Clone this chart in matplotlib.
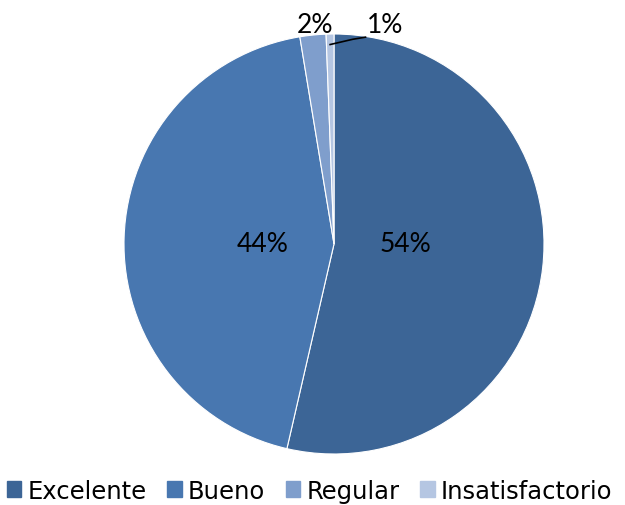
import matplotlib
matplotlib.use("Agg")
import matplotlib.pyplot as plt
import numpy as np

categories = ["Excelente", "Bueno", "Regular", "Insatisfactorio"]
values = [53.6, 43.8, 2.0, 0.6]
labels = ["54%", "44%", "2%", "1%"]
colors = ["#3c6596", "#4877b0", "#7f9ecc", "#b5c6e2"]

plt.rcParams['font.family'] = ['Lato', 'DejaVu Sans']

W, H = 625, 506
fig = plt.figure(figsize=(W / 100, H / 100), dpi=100)
cx, cy, r = 334, 245, 210
ax = fig.add_axes([(cx - r) / W, (H - cy - r) / H, 2 * r / W, 2 * r / H])
wedges, _ = ax.pie(values, colors=colors, startangle=90, counterclock=False,
                   radius=1, wedgeprops=dict(edgecolor="white", linewidth=0.8))
ax.set_xlim(-1, 1)
ax.set_ylim(-1, 1)
ax.set_aspect("equal")
ax.axis("off")

for i, w in enumerate(wedges[:2]):
    mid = np.deg2rad((w.theta1 + w.theta2) / 2)
    d = 0.34
    ax.text(d * np.cos(mid), 0.0, labels[i], ha="center", va="center",
            fontsize=19, color="black")
# small slices
ax.text(-0.09, 1.045, labels[2], ha="center", va="center", fontsize=19, clip_on=False)
ax.text(0.245, 1.045, labels[3], ha="center", va="center", fontsize=19, clip_on=False)
w3 = wedges[3]
mid = np.deg2rad((w3.theta1 + w3.theta2) / 2)
x0, y0 = 0.98 * np.cos(mid), 0.98 * np.sin(mid)
ax.plot([x0, 0.09, 0.15], [y0 - 0.03, 0.975, 0.985], color="black", lw=1.2, clip_on=False)

handles = [plt.Rectangle((0, 0), 1, 1, color=c) for c in colors]
fig.legend(handles, categories, loc="lower center", bbox_to_anchor=(0.495, -0.024), ncol=4,
           frameon=False, prop={"family": "DejaVu Sans", "size": 17.5},
           handlelength=0.6, handleheight=0.6,
           handletextpad=0.25, columnspacing=0.85, borderaxespad=0.2)

fig.savefig("out.png", dpi=100)
